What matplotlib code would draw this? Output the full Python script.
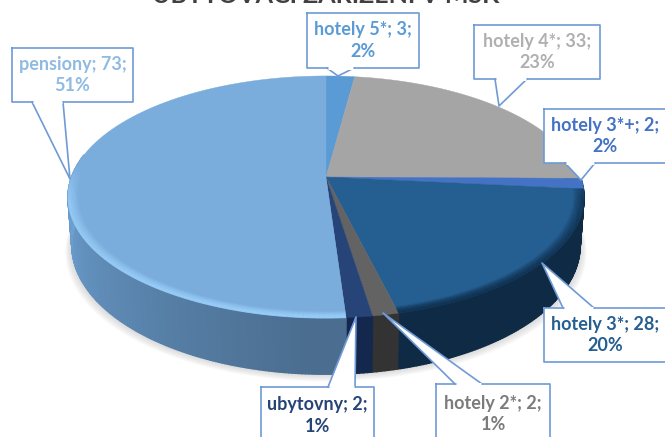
import numpy as np
import matplotlib
matplotlib.use("Agg")
import matplotlib.pyplot as plt
from matplotlib.collections import LineCollection
from matplotlib.colors import to_rgb

categories = ["hotely 5*", "hotely 4*", "hotely 3*+", "hotely 3*", "hotely 2*", "ubytovny", "pensiony"]
values = [3, 33, 2, 28, 2, 2, 73]
percents = ["2%", "23%", "2%", "20%", "1%", "1%", "51%"]
top_colors = ["#5b9bd5", "#a5a5a5", "#4472c4", "#255e91", "#636363", "#264478", "#7aacdc"]
wall_colors = ["#3d6a91", "#707070", "#2e4d85", "#0e2a44", "#333333", "#14274c", "#6ea2d4"]
label_colors = ["#5b9bd5", "#b0b0b0", "#4472c4", "#255e91", "#7b7b7b", "#264478", "#8fbbe3"]
title = "UBYTOVACÍ ZAŘÍZENÍ V MSK"

W, H = 665, 437
CX, CY, AX, AY, K, DEPTH = 326, 177, 254.5, 117.7, 0.165, 47
FONT = "Lato"

def project(ang, r=1.0):
    X, Y = r * np.sin(ang), -r * np.cos(ang)
    d = 1 - K * Y
    return CX + AX * X / d, CY + AY * Y / d

def project_bottom(ang):
    x, y = project(ang)
    Y = -np.cos(ang)
    return CX + (x - CX) * 0.985, y + DEPTH / (1 - K * Y)

fig = plt.figure(figsize=(W / 100, H / 100), dpi=100)
ax = fig.add_axes([0, 0, 1, 1])
ax.set_xlim(0, W)
ax.set_ylim(H, 0)
ax.axis("off")

edges = np.radians(np.cumsum([0] + values) / sum(values) * 360)

# soft shadow under the disc
ring = np.linspace(0, 2 * np.pi, 240)
sx, sy = project_bottom(ring)
for grow in np.linspace(9, 1, 9):
    ax.fill(CX + (sx - CX) * (1 + grow / 350), sy + grow * 0.8,
            color="#666666", alpha=0.028, lw=0, zorder=1)

# side wall
for i, (a0, a1) in enumerate(zip(edges[:-1], edges[1:])):
    angs = np.linspace(a0, a1, max(3, int((a1 - a0) * 90)))
    base = np.array(to_rgb(wall_colors[i]))
    for a, b in zip(angs[:-1], angs[1:]):
        m = (a + b) / 2
        if np.cos(m) > 0.2:
            continue
        if i == 6:  # pensiony wall darkens towards the front
            t = np.clip((np.degrees(m) - 185) / 85, 0, 1)
            col = base * (0.68 + 0.32 * t)
        else:
            col = base
        x0, y0 = project(a)
        x1, y1 = project(b)
        x2, y2 = project_bottom(b)
        x3, y3 = project_bottom(a)
        ax.fill([x0, x1, x2, x3], [y0, y1, y2, y3],
                color=col, lw=1.0, ec=col, zorder=2)

# top face
for i, (a0, a1) in enumerate(zip(edges[:-1], edges[1:])):
    angs = np.linspace(a0, a1, max(3, int((a1 - a0) * 60)))
    xs, ys = project(angs)
    ax.fill(np.r_[CX, xs], np.r_[CY, ys], color=top_colors[i], lw=0.3,
            ec=top_colors[i], zorder=3)

# soft bevel along the front edge of the top face
def rim(a0, a1, r, rgb, alpha, lw):
    angs = np.linspace(a0, a1, 160)
    xs, ys = project(angs, r)
    pts = np.column_stack([xs, ys])
    segs = np.stack([pts[:-1], pts[1:]], axis=1)
    mid = (angs[:-1] + angs[1:]) / 2
    fade = np.clip((0.1 - np.cos(mid)) / 0.3, 0, 1) * alpha
    cols = [(*to_rgb(rgb), f) for f in fade]
    ax.add_collection(LineCollection(segs, colors=cols, linewidths=lw, zorder=4,
                                     capstyle="butt"))

for j in range(8):
    r = 0.998 - 0.005 * j
    rim(edges[6], edges[7] - 0.4, r, "#9ad0fa", 0.8 * (1 - j / 8), 1.3)
    rim(edges[3], edges[4], r, "#10304e", 0.85 * (1 - j / 8), 1.3)

# callouts: box (left, top, right, bottom), tail base on box edge, tip on chart
callouts = [
    (0, (307, 13, 419, 68), (327, 68), (354, 68), (338, 76)),
    (1, (474, 25, 600, 79), (495, 79), (527, 79), (499, 106)),
    (2, (544, 109, 666, 163), (565, 163), (595, 163), (581, 180)),
    (3, (544, 308, 666, 362), (563, 308), (594, 308), (542, 263)),
    (4, (436, 384, 550, 438), (455, 384), (482, 384), (383, 313)),
    (5, (261, 387, 374, 438), (328, 387), (355, 387), (356, 317)),
    (6, (12, 48, 133, 102), (32, 102), (63, 102), (70, 179)),
]
for i, (l, t, r, b), p0, p1, tip in callouts:
    px = [l, r, r, l, l]
    py = [t, t, b, b, t]
    ax.fill(px, py, color="white", lw=0, zorder=6)
    ax.fill([p0[0], tip[0], p1[0]], [p0[1], tip[1], p1[1]], color="white", lw=0, zorder=6)
    ax.plot(px, py, color="#6f9ad6", lw=1.2, zorder=7)
    ax.plot([p0[0], tip[0], p1[0]], [p0[1], tip[1], p1[1]], color="#6f9ad6", lw=1.2, zorder=8)
    ax.plot([p0[0] + 1, p1[0] - 1], [p0[1], p1[1]], color="white", lw=2.2, zorder=8,
            solid_capstyle="butt")
    ax.text((l + r) / 2, (t + b) / 2 + (3 if b > 437 else 0),
            f"{categories[i]}; {values[i]};\n{percents[i]}",
            ha="center", va="center", fontsize=13.0, fontweight="bold",
            family=FONT, color=label_colors[i], linespacing=1.3, zorder=9)

ax.text(326, 3, title, ha="center", va="baseline",
        fontsize=18, fontweight="bold", family=FONT, color="#404040", zorder=9)

fig.savefig("out.png", dpi=100, facecolor="white")
